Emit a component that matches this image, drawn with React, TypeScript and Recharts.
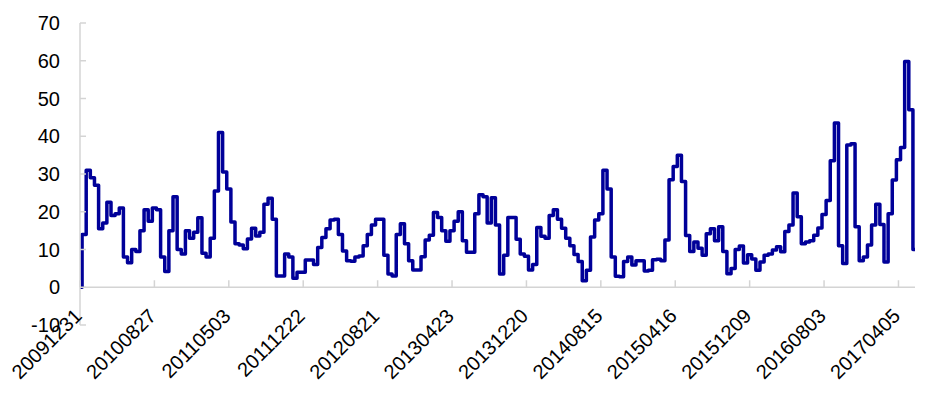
import React from "react";
import { LineChart, Line, XAxis, YAxis, ReferenceLine } from "recharts";

const DATE_LABELS = [
  "20091231",
  "20100827",
  "20110503",
  "20111222",
  "20120821",
  "20130423",
  "20131220",
  "20140815",
  "20150416",
  "20151209",
  "20160803",
  "20170405",
];

// one label every 18 points
const LABEL_STEP = 18;

const Y_TICKS = [-10, 0, 10, 20, 30, 40, 50, 60, 70];

const VALUES = [
  0, 14, 31, 29, 27, 15.5, 17, 22.5, 19, 19.5,
  21, 8, 6.5, 10, 9.5, 15, 20.5, 17.5, 21, 20.5,
  8, 4.2, 15, 24, 10, 8.8, 15, 13, 14.6, 18.4,
  9, 8, 13, 25.5, 41, 30.5, 26, 17.3, 11.5, 11.2,
  10.2, 12.8, 15.6, 13.6, 14.6, 22, 23.6, 18, 3, 3,
  8.8, 8, 2.4, 4, 4, 7.2, 7.2, 6, 10.5, 13.2,
  15.5, 17.8, 18, 14, 9.6, 7, 6.9, 8, 8.3, 11,
  14, 16.5, 18, 18, 8.5, 3.5, 3, 14, 16.8, 11.5,
  7, 4.6, 4.6, 8.1, 12.5, 13.8, 19.8, 18.5, 15, 12.2,
  15, 17.5, 20, 12.3, 9.3, 9.3, 19.5, 24.5, 24, 17,
  23.7, 16.5, 3.5, 8.5, 18.5, 18.5, 12.7, 8.8, 8.2, 4.6,
  6, 15.8, 13.5, 13, 19, 20.5, 18, 15.6, 13, 11,
  8.7, 6.8, 1.7, 4.5, 13.3, 17.8, 19.5, 31, 26, 8,
  2.9, 2.8, 6.8, 8, 5.9, 7, 7, 4.3, 4.5, 7.3,
  7.4, 7, 12.5, 28.5, 32, 35, 28, 13.7, 9.5, 12,
  10.3, 8.5, 14.2, 15.5, 12.3, 16, 9.5, 3.6, 5, 10,
  10.9, 6.4, 8.6, 7.5, 4.5, 6.7, 8.5, 8.8, 9.9, 10.7,
  9.4, 14.8, 16.5, 25, 18.7, 11.5, 12, 12.3, 13.8, 15.7,
  19.3, 23, 33.5, 43.5, 11, 6.3, 37.7, 38, 16, 7,
  8, 11.2, 16.5, 22, 16.6, 6.7, 19.5, 28.4, 33.8, 37,
  59.8, 47, 10,
];

const data = VALUES.map((v, i) => ({ i, v }));
const xTicks = DATE_LABELS.map((_, k) => k * LABEL_STEP);

const W = 920;
const H = 383;
const M = { top: 15, right: 13, left: 0, bottom: 0 };
const Y_AXIS_W = 72;
const X_AXIS_H = 66;
const PLOT_H = H - M.top - M.bottom - X_AXIS_H;
// pixel distance from the -10 floor up to the 0 line
const ZERO_OFFSET = PLOT_H / 8;

const AXIS_COLOR = "#d4d4d4";
const FONT = "'Liberation Sans', Arial, sans-serif";

function YTick({ x, y, payload }: any) {
  return (
    <g>
      <line x1={x} y1={y} x2={x + 6} y2={y} stroke={AXIS_COLOR} strokeWidth={1.5} />
      <text
        x={x - 20}
        y={y}
        dy="0.36em"
        textAnchor="end"
        fontSize={20}
        fontFamily={FONT}
        fill="#000"
      >
        {payload.value}
      </text>
    </g>
  );
}

function XTick({ x, y, payload }: any) {
  const y0 = y - ZERO_OFFSET;
  const label = DATE_LABELS[Math.round(payload.value / LABEL_STEP)] ?? "";
  const tx = x + 3;
  const ty = y0 + 30;
  return (
    <g>
      <line x1={x} y1={y0 - 7} x2={x} y2={y0} stroke={AXIS_COLOR} strokeWidth={1.5} />
      <text
        x={tx}
        y={ty}
        textAnchor="end"
        fontSize={20}
        fontFamily={FONT}
        fill="#000"
        transform={`rotate(-45, ${tx}, ${ty})`}
      >
        {label}
      </text>
    </g>
  );
}

export default function App() {
  return (
    <div style={{ width: W, height: H }}>
      <LineChart width={W} height={H} data={data} margin={M}>
        <XAxis
          dataKey="i"
          type="number"
          domain={[0, VALUES.length - 1]}
          ticks={xTicks}
          interval={0}
          height={X_AXIS_H}
          axisLine={false}
          tickLine={false}
          tickSize={0}
          tickMargin={0}
          tick={<XTick />}
        />
        <YAxis
          domain={[-10, 70]}
          ticks={Y_TICKS}
          interval={0}
          width={Y_AXIS_W}
          axisLine={{ stroke: AXIS_COLOR, strokeWidth: 1.5 }}
          tickLine={false}
          tickSize={0}
          tickMargin={0}
          tick={<YTick />}
        />
        <ReferenceLine y={0} stroke={AXIS_COLOR} strokeWidth={1.5} />
        <Line
          type="step"
          dataKey="v"
          stroke="#000099"
          strokeWidth={3.5}
          strokeLinejoin="round"
          dot={false}
          isAnimationActive={false}
        />
      </LineChart>
    </div>
  );
}
